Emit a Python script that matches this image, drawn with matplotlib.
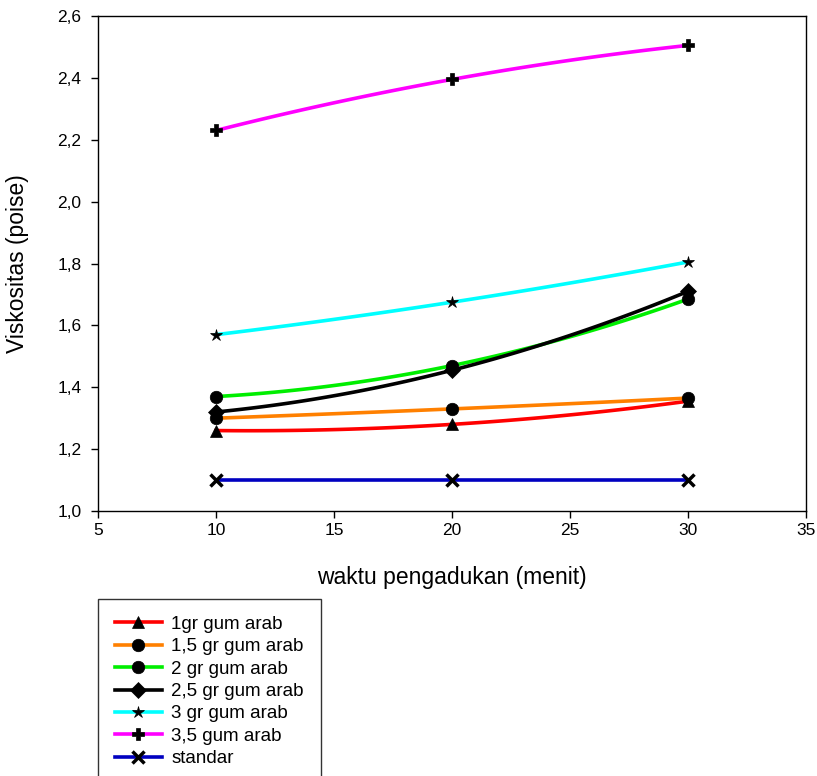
import numpy as np
import matplotlib.pyplot as plt
from matplotlib.lines import Line2D
from matplotlib.ticker import FuncFormatter

plt.rcParams['font.family'] = ['Liberation Sans', 'DejaVu Sans']

# data
waktu = [10, 20, 30]
labels = ['1gr gum arab', '1,5 gr gum arab', '2 gr gum arab', '2,5 gr gum arab',
          '3 gr gum arab', '3,5 gum arab', 'standar']
v_1 = [1.26, 1.28, 1.355]
v_15 = [1.30, 1.33, 1.365]
v_2 = [1.37, 1.47, 1.685]
v_25 = [1.32, 1.455, 1.71]
v_3 = [1.57, 1.675, 1.805]
v_35 = [2.23, 2.395, 2.505]
v_std = [1.10, 1.10, 1.10]
series = [v_1, v_15, v_2, v_25, v_3, v_35, v_std]

colors = ['#ff0000', '#ff8000', '#00ee00', '#000000', '#00ffff', '#ff00ff', '#0000c0']
markers = ['^', 'o', 'o', 'D', '*', 'P', 'x']
msizes = [8, 9, 9, 8, 9, 9, 9]

fig = plt.figure(figsize=(8.17, 7.76), dpi=100)
ax = fig.add_axes([98/817, 1 - 511/776, (806-98)/817, (511-16)/776])

handles = []
for y, c, m, ms, lab in zip(series, colors, markers, msizes, labels):
    # smooth curve through the three points (drawing only)
    coef = np.polyfit(waktu, y, 2)
    xs = np.linspace(waktu[0], waktu[-1], 100)
    ax.plot(xs, np.polyval(coef, xs), color=c, lw=2.6, zorder=2)
    ax.plot(waktu, y, ls='none', marker=m, ms=ms, color='black',
            mew=2.5 if m == 'x' else 0.5, zorder=3)
    handles.append(Line2D([], [], color=c, lw=2.6, marker=m, ms=ms, mfc='black',
                          mec='black', mew=2.5 if m == 'x' else 0.5, label=lab))

ax.set_xlim(5, 35)
ax.set_ylim(1.0, 2.6)
ax.set_xticks(np.arange(5, 36, 5))
ax.set_yticks(np.arange(1.0, 2.61, 0.2))
ax.yaxis.set_major_formatter(FuncFormatter(lambda v, p: f'{v:.1f}'.replace('.', ',')))
ax.tick_params(direction='out', length=5, width=1, labelsize=12.5, top=False, right=False)
ax.tick_params(axis='y', pad=7)
for s in ax.spines.values():
    s.set_linewidth(1)
ax.set_xlabel('waktu pengadukan (menit)', fontsize=16.5, labelpad=20)
ax.set_ylabel('Viskositas (poise)', fontsize=16.5, labelpad=20)

fig.legend(handles=handles, loc='upper left', bbox_to_anchor=(98/817, 1 - 599/776),
           fontsize=13.5, frameon=True, fancybox=False, edgecolor='black',
           handlelength=2.5, labelspacing=0.28, borderpad=0.9, borderaxespad=0,
           handletextpad=0.5).get_frame().set_linewidth(1)

fig.savefig('out.png', dpi=100)
